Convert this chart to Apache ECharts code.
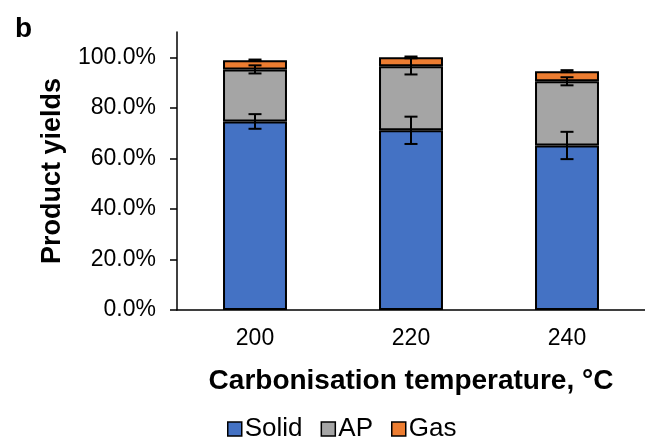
<!DOCTYPE html>
<html>
<head>
<meta charset="utf-8">
<script src="https://cdn.jsdelivr.net/npm/echarts@6/dist/echarts.min.js"></script>
<style>
  html, body { margin: 0; padding: 0; background: #fff; }
  #chart { width: 645px; height: 439px; }
</style>
</head>
<body>
<div id="chart"></div>
<script>
// Carbonisation temperatures (°C)
const categories = ['200', '220', '240'];

// Product yields per fraction, %
const solid = [74.6, 71.1, 65.1];
const ap    = [20.6, 25.3, 25.4];
const gas   = [3.6, 3.6, 4.0];

// Standard deviations, %
const solidErr = [2.9, 5.4, 5.4];
const apErr    = [1.6, 3.2, 1.6];
const gasErr   = [0.3, 0.3, 0.4];

// Y-axis tick labels, %
const yTicks = [0, 20, 40, 60, 80, 100];

const FONT = '"Liberation Sans", Arial, sans-serif';

// Error bars sit on the cumulative top of each stacked segment
function errorData(segments, errs) {
  return categories.map((c, i) => {
    let top = 0;
    for (const s of segments) top += s[i];
    return [i, top, errs[i]];
  });
}
const errSeriesData = [
  errorData([solid], solidErr),
  errorData([solid, ap], apErr),
  errorData([solid, ap, gas], gasErr)
];

function renderErrorBar(params, api) {
  const x = api.value(0);
  const c = api.value(1);
  const e = api.value(2);
  const hi = api.coord([x, c + e]);
  const lo = api.coord([x, c - e]);
  const hw = 6.5;
  const style = { stroke: '#000', lineWidth: 2, fill: null };
  return {
    type: 'group',
    children: [
      { type: 'line', shape: { x1: hi[0], y1: hi[1], x2: lo[0], y2: lo[1] }, style },
      { type: 'line', shape: { x1: hi[0] - hw, y1: hi[1], x2: hi[0] + hw, y2: hi[1] }, style },
      { type: 'line', shape: { x1: lo[0] - hw, y1: lo[1], x2: lo[0] + hw, y2: lo[1] }, style }
    ]
  };
}

function barSeries(name, data, color) {
  return {
    name, type: 'bar', stack: 'yield', data,
    barCategoryGap: '59%',
    itemStyle: { color, borderColor: '#000', borderWidth: 2 },
    emphasis: { disabled: true }
  };
}

const chart = echarts.init(document.getElementById('chart'), null, { renderer: 'canvas' });
chart.setOption({
  animation: false,
  textStyle: { fontFamily: FONT, color: '#000' },
  title: {
    text: 'b', left: 10, top: 10,
    textStyle: { fontFamily: FONT, fontWeight: 'bold', fontSize: 28, color: '#000' }
  },
  legend: {
    data: ['Solid', 'AP', 'Gas'],
    left: 222, top: 411,
    itemWidth: 14, itemHeight: 14, itemGap: 18,
    icon: 'rect',
    itemStyle: { borderColor: '#000', borderWidth: 1.5 },
    textStyle: { fontFamily: FONT, fontSize: 26, color: '#000', padding: [0, 0, 0, -2] }
  },
  grid: { left: 177, right: -5, top: 32, bottom: 129, containLabel: false },
  xAxis: {
    type: 'category', data: categories,
    name: 'Carbonisation temperature, °C',
    nameLocation: 'middle', nameGap: 57,
    nameTextStyle: { fontFamily: FONT, fontWeight: 'bold', fontSize: 28, color: '#000' },
    axisLine: { lineStyle: { color: '#000', width: 1.5 } },
    axisTick: { show: false },
    axisLabel: { fontFamily: FONT, fontSize: 23, color: '#000', margin: 17 }
  },
  yAxis: {
    type: 'value', min: 0, max: 110, interval: 10,
    name: 'Product yields',
    nameLocation: 'middle', nameGap: 111,
    nameTextStyle: { fontFamily: FONT, fontWeight: 'bold', fontSize: 27, color: '#000' },
    axisLine: { show: true, lineStyle: { color: '#000', width: 1.5 } },
    axisTick: { show: true, length: 7, customValues: yTicks, lineStyle: { color: '#000', width: 1.5 } },
    splitLine: { show: false },
    axisLabel: {
      fontFamily: FONT, fontSize: 23, color: '#000', margin: 21,
      customValues: yTicks,
      formatter: v => v.toFixed(1) + '%'
    }
  },
  series: [
    barSeries('Solid', solid, '#4472C4'),
    barSeries('AP', ap, '#A5A5A5'),
    barSeries('Gas', gas, '#ED7D31'),
    ...errSeriesData.map(d => ({
      type: 'custom', renderItem: renderErrorBar, data: d, z: 10,
      encode: { x: 0, y: 1 }, silent: true
    }))
  ]
});
</script>
</body>
</html>
